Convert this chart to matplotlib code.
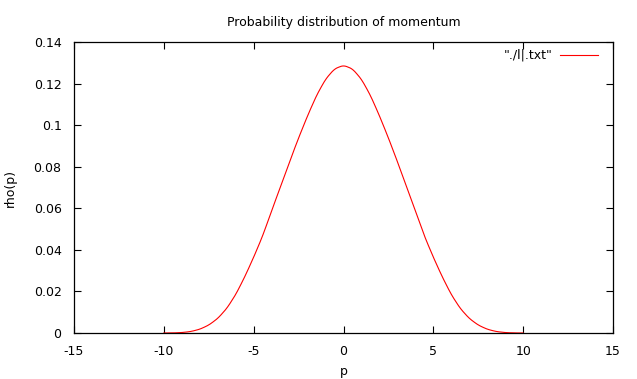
import matplotlib
matplotlib.use("Agg")
import matplotlib.pyplot as plt
import numpy as np

# valores (curva simetrica em torno de p = 0)
p_half = [0.0, 0.5, 1.0, 1.5, 2.0, 2.5, 3.0, 3.5, 4.0, 4.5, 5.0,
          5.5, 6.0, 6.5, 7.0, 7.5, 8.0, 8.5, 9.0, 9.5, 10.0]
rho_half = [0.129, 0.1273, 0.1223, 0.1145, 0.1047, 0.0940, 0.0826, 0.0707,
            0.0589, 0.0468, 0.0365, 0.0270, 0.0185, 0.0118, 0.0070, 0.0038,
            0.0018, 0.0007, 0.0002, 0.00003, 0.0]

p = np.concatenate([-np.array(p_half[:0:-1]), np.array(p_half)])
rho = np.concatenate([np.array(rho_half[:0:-1]), np.array(rho_half)])

# suavizando a curva entre os pontos lidos
p_fino = np.linspace(p[0], p[-1], 801)
rho_fino = np.interp(p_fino, p, rho)
kernel = np.ones(15) / 15
rho_fino = np.convolve(np.pad(rho_fino, 7, mode="edge"), kernel, mode="valid")

x_ticks = [-15, -10, -5, 0, 5, 10, 15]
y_ticks = [0, 0.02, 0.04, 0.06, 0.08, 0.1, 0.12, 0.14]
y_labels = ["0", "0.02", "0.04", "0.06", "0.08", "0.1", "0.12", "0.14"]

plt.rcParams["font.family"] = "DejaVu Sans"
plt.rcParams["font.size"] = 9
plt.rcParams["axes.unicode_minus"] = False

fig = plt.figure(figsize=(6.37, 3.79), dpi=100)
ax = fig.add_axes([0.1162, 0.1214, 0.8461, 0.7665])

ax.plot(p_fino, rho_fino, color="#ff0000", linewidth=0.8, label='"./l|.txt"')

ax.set_xlim(-15, 15)
ax.set_ylim(0, 0.14)
ax.set_xticks(x_ticks)
ax.set_yticks(y_ticks)
ax.set_yticklabels(y_labels)
ax.tick_params(direction="in", length=5, width=0.8, top=True, right=True, pad=9, colors="black")
for s in ax.spines.values():
    s.set_linewidth(0.9)

ax.set_title("Probability distribution of momentum", fontsize=9, pad=12)
ax.set_xlabel("p", fontsize=9, labelpad=5)
ax.set_ylabel("rho(p)", fontsize=9, labelpad=12)

ax.legend(loc="upper right", bbox_to_anchor=(0.981, 0.995), frameon=False,
          markerfirst=False, handlelength=3.0, fontsize=9, borderaxespad=0,
          handletextpad=0.6)

fig.savefig("out.png", dpi=100)
